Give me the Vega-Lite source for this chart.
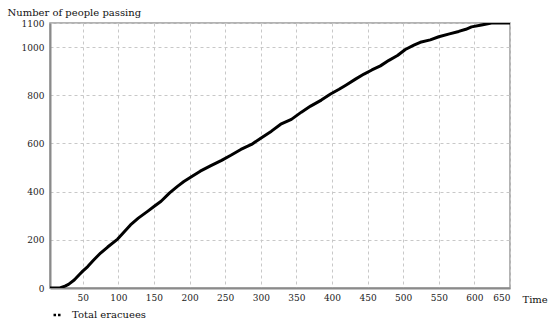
{
  "$schema": "https://vega.github.io/schema/vega-lite/v6.json",
  "width": 460,
  "height": 265,
  "autosize": {"type": "none"},
  "padding": {"left": 50, "top": 23, "right": 40, "bottom": 38},
  "background": "white",
  "config": {
    "font": "DejaVu Serif",
    "view": {"stroke": "#9a9a9a", "strokeWidth": 1.5},
    "axis": {
      "labelFont": "DejaVu Serif",
      "titleFont": "DejaVu Serif",
      "labelFontSize": 9,
      "labelColor": "#222",
      "titleFontSize": 10,
      "titleFontWeight": "normal",
      "titleColor": "#111",
      "domainColor": "#8a8a8a",
      "domainWidth": 2,
      "tickSize": 0,
      "gridColor": "#c8c8c8",
      "gridDash": [3, 3],
      "gridWidth": 1
    },
    "legend": {
      "labelFont": "DejaVu Serif"
    }
  },
  "data": {
    "values": [
      {"time": 4, "people": 0},
      {"time": 10, "people": 0},
      {"time": 18, "people": 0},
      {"time": 25, "people": 8},
      {"time": 30, "people": 15},
      {"time": 38, "people": 33},
      {"time": 45, "people": 55},
      {"time": 50, "people": 70},
      {"time": 57, "people": 89},
      {"time": 65, "people": 115},
      {"time": 75, "people": 145},
      {"time": 85, "people": 170},
      {"time": 99, "people": 203},
      {"time": 108, "people": 232},
      {"time": 117, "people": 262},
      {"time": 128, "people": 290},
      {"time": 141, "people": 318},
      {"time": 150, "people": 338},
      {"time": 160, "people": 360},
      {"time": 172, "people": 395},
      {"time": 183, "people": 422},
      {"time": 192, "people": 442},
      {"time": 202, "people": 461},
      {"time": 215, "people": 485},
      {"time": 230, "people": 508},
      {"time": 245, "people": 530},
      {"time": 258, "people": 551},
      {"time": 272, "people": 575},
      {"time": 287, "people": 596},
      {"time": 300, "people": 622},
      {"time": 315, "people": 651},
      {"time": 328, "people": 680},
      {"time": 343, "people": 700},
      {"time": 357, "people": 730},
      {"time": 370, "people": 755},
      {"time": 385, "people": 780},
      {"time": 398, "people": 805},
      {"time": 410, "people": 825},
      {"time": 420, "people": 843},
      {"time": 433, "people": 867},
      {"time": 445, "people": 888},
      {"time": 456, "people": 905},
      {"time": 468, "people": 922},
      {"time": 480, "people": 945},
      {"time": 492, "people": 965},
      {"time": 503, "people": 990},
      {"time": 515, "people": 1008},
      {"time": 524, "people": 1020},
      {"time": 538, "people": 1030},
      {"time": 550, "people": 1043},
      {"time": 565, "people": 1055},
      {"time": 578, "people": 1065},
      {"time": 588, "people": 1074},
      {"time": 596, "people": 1084},
      {"time": 610, "people": 1092},
      {"time": 624, "people": 1100},
      {"time": 650, "people": 1100}
    ]
  },
  "transform": [{"calculate": "'Total eracuees'", "as": "series"}],
  "mark": {"type": "line", "strokeWidth": 3, "strokeJoin": "round", "clip": true},
  "encoding": {
    "x": {
      "field": "time",
      "type": "quantitative",
      "scale": {"domain": [4, 650], "nice": false, "zero": false},
      "axis": {
        "values": [50, 100, 150, 200, 250, 300, 350, 400, 450, 500, 550, 600, 650],
        "format": "d",
        "labelPadding": 5,
        "title": "Time",
        "titleX": 472,
        "titleY": 14,
        "titleAlign": "left",
        "titleBaseline": "alphabetic"
      }
    },
    "y": {
      "field": "people",
      "type": "quantitative",
      "scale": {"domain": [0, 1100], "nice": false},
      "axis": {
        "values": [0, 200, 400, 600, 800, 1000, 1100],
        "format": "d",
        "labelPadding": 6,
        "title": "Number of people passing",
        "titleAngle": 0,
        "titleX": -43,
        "titleY": -8,
        "titleAlign": "left",
        "titleBaseline": "alphabetic"
      }
    },
    "color": {
      "field": "series",
      "type": "nominal",
      "scale": {"range": ["#000000"]},
      "legend": {
        "orient": "none",
        "legendX": 2,
        "legendY": 286,
        "title": null,
        "symbolType": "stroke",
        "symbolSize": 80,
        "symbolStrokeWidth": 2.5,
        "symbolDash": [2.5, 2],
        "labelFont": "DejaVu Serif",
        "labelFontSize": 10,
        "labelColor": "#111",
        "labelOffset": 8
      }
    }
  }
}
